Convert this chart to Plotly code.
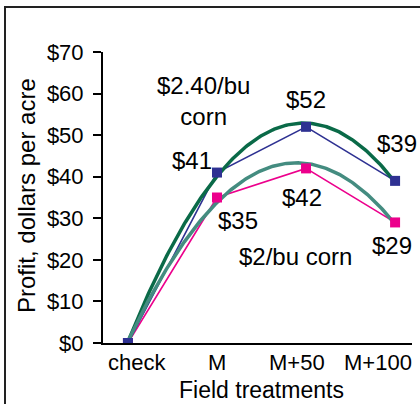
import numpy as np
import plotly.graph_objects as go

# Field treatments and profit per acre at two corn prices
treatments = ["check", "M", "M+50", "M+100"]
profit_240 = [0, 41, 52, 39]   # $2.40/bu corn
profit_200 = [0, 35, 42, 29]   # $2/bu corn

BLUE = "#2E3192"
PINK = "#EC008C"
GREEN = "#0A6A48"
TEAL = "#448C80"
FONT = "Liberation Sans, Arial, sans-serif"

W, H = 420, 404
L, R, T, B = 103, 8, 52, 61
pw, ph = W - L - R, H - T - B


def px(xp):
    return (xp - L) / pw


def py(yp):
    return (H - B - yp) / ph


idx = np.arange(len(treatments))
xs = np.linspace(0, len(treatments) - 1, 200)


def trend(values):
    coef = np.polyfit(idx, values, 2)
    return np.polyval(coef, xs)


fig = go.Figure()

# data series lines
for vals, col in [(profit_200, PINK), (profit_240, BLUE)]:
    fig.add_trace(go.Scatter(
        x=idx, y=vals, mode="lines",
        line=dict(color=col, width=1.6), hoverinfo="skip"))

# second-order polynomial trend lines
fig.add_trace(go.Scatter(x=xs, y=trend(profit_240), mode="lines",
                         line=dict(color=GREEN, width=3.5), hoverinfo="skip"))
fig.add_trace(go.Scatter(x=xs, y=trend(profit_200), mode="lines",
                         line=dict(color=TEAL, width=3.5), hoverinfo="skip"))

# square markers on top
for vals, col in [(profit_200, PINK), (profit_240, BLUE)]:
    fig.add_trace(go.Scatter(
        x=idx, y=vals, mode="markers",
        marker=dict(symbol="square", size=10, color=col, line=dict(width=0))))

LABEL = dict(family=FONT, size=24, color="black")
CENTER = dict(showarrow=False, xanchor="center", yanchor="middle", borderpad=0)

# value labels (the zero check plot is left unlabeled)
shift_240 = [None, (-25, 12), (0, 27), (2, 37)]
shift_200 = [None, (21, -23), (-4, -29), (-3, -23)]
for vals, shifts in [(profit_240, shift_240), (profit_200, shift_200)]:
    for i, (v, s) in enumerate(zip(vals, shifts)):
        if s is None:
            continue
        fig.add_annotation(x=i, y=v, text=f"${v}", xshift=s[0], yshift=s[1],
                           font=LABEL, **CENTER)

# series captions
fig.add_annotation(x=(204 - 128) / 89, y=(343 - 101) / 4.157,
                   text="$2.40/bu<br>corn", font=LABEL, **CENTER)
fig.add_annotation(x=(295 - 128) / 89, y=(343 - 256) / 4.157,
                   text="$2/bu corn", font=LABEL, **CENTER)

# category labels under the axis, nudged to stay inside the frame
cat_shift = [9, 0, -9, -17]
for i, (name, s) in enumerate(zip(treatments, cat_shift)):
    fig.add_annotation(x=i, y=py(362), xref="x", yref="paper",
                       text=name, xshift=s,
                       font=dict(family=FONT, size=22, color="black"), **CENTER)

# axis titles
fig.add_annotation(x=px(261), y=py(390), xref="paper", yref="paper",
                   text="Field treatments",
                   font=dict(family=FONT, size=23, color="black"), **CENTER)
fig.add_annotation(x=px(26), y=py(196), xref="paper", yref="paper",
                   text="Profit, dollars per acre", textangle=-90,
                   font=dict(family=FONT, size=24, color="black"), **CENTER)

# outer frame (top and left edges)
fig.add_shape(type="path", xref="paper", yref="paper",
              path=f"M {px(5)} {py(410)} L {px(5)} {py(7)} L {px(425)} {py(7)}",
              line=dict(color="#222222", width=2))

fig.update_layout(
    width=W, height=H,
    margin=dict(l=L, r=R, t=T, b=B),
    paper_bgcolor="white", plot_bgcolor="white",
    showlegend=False,
    font=dict(family=FONT, color="black"),
)
fig.update_xaxes(
    range=[-0.28, 3.19],
    tickvals=idx, showticklabels=False, ticks="",
    showline=True, linecolor="black", linewidth=2,
    showgrid=False, zeroline=False,
)
fig.update_yaxes(
    range=[0, 70], tickvals=list(range(0, 71, 10)),
    ticktext=[f"${v}" for v in range(0, 71, 10)],
    tickfont=dict(size=22), ticks="outside", ticklen=8, tickwidth=2,
    tickcolor="black", ticklabelstandoff=5,
    showline=True, linecolor="black", linewidth=2,
    showgrid=False, zeroline=False,
)

fig.write_html("out.html")
